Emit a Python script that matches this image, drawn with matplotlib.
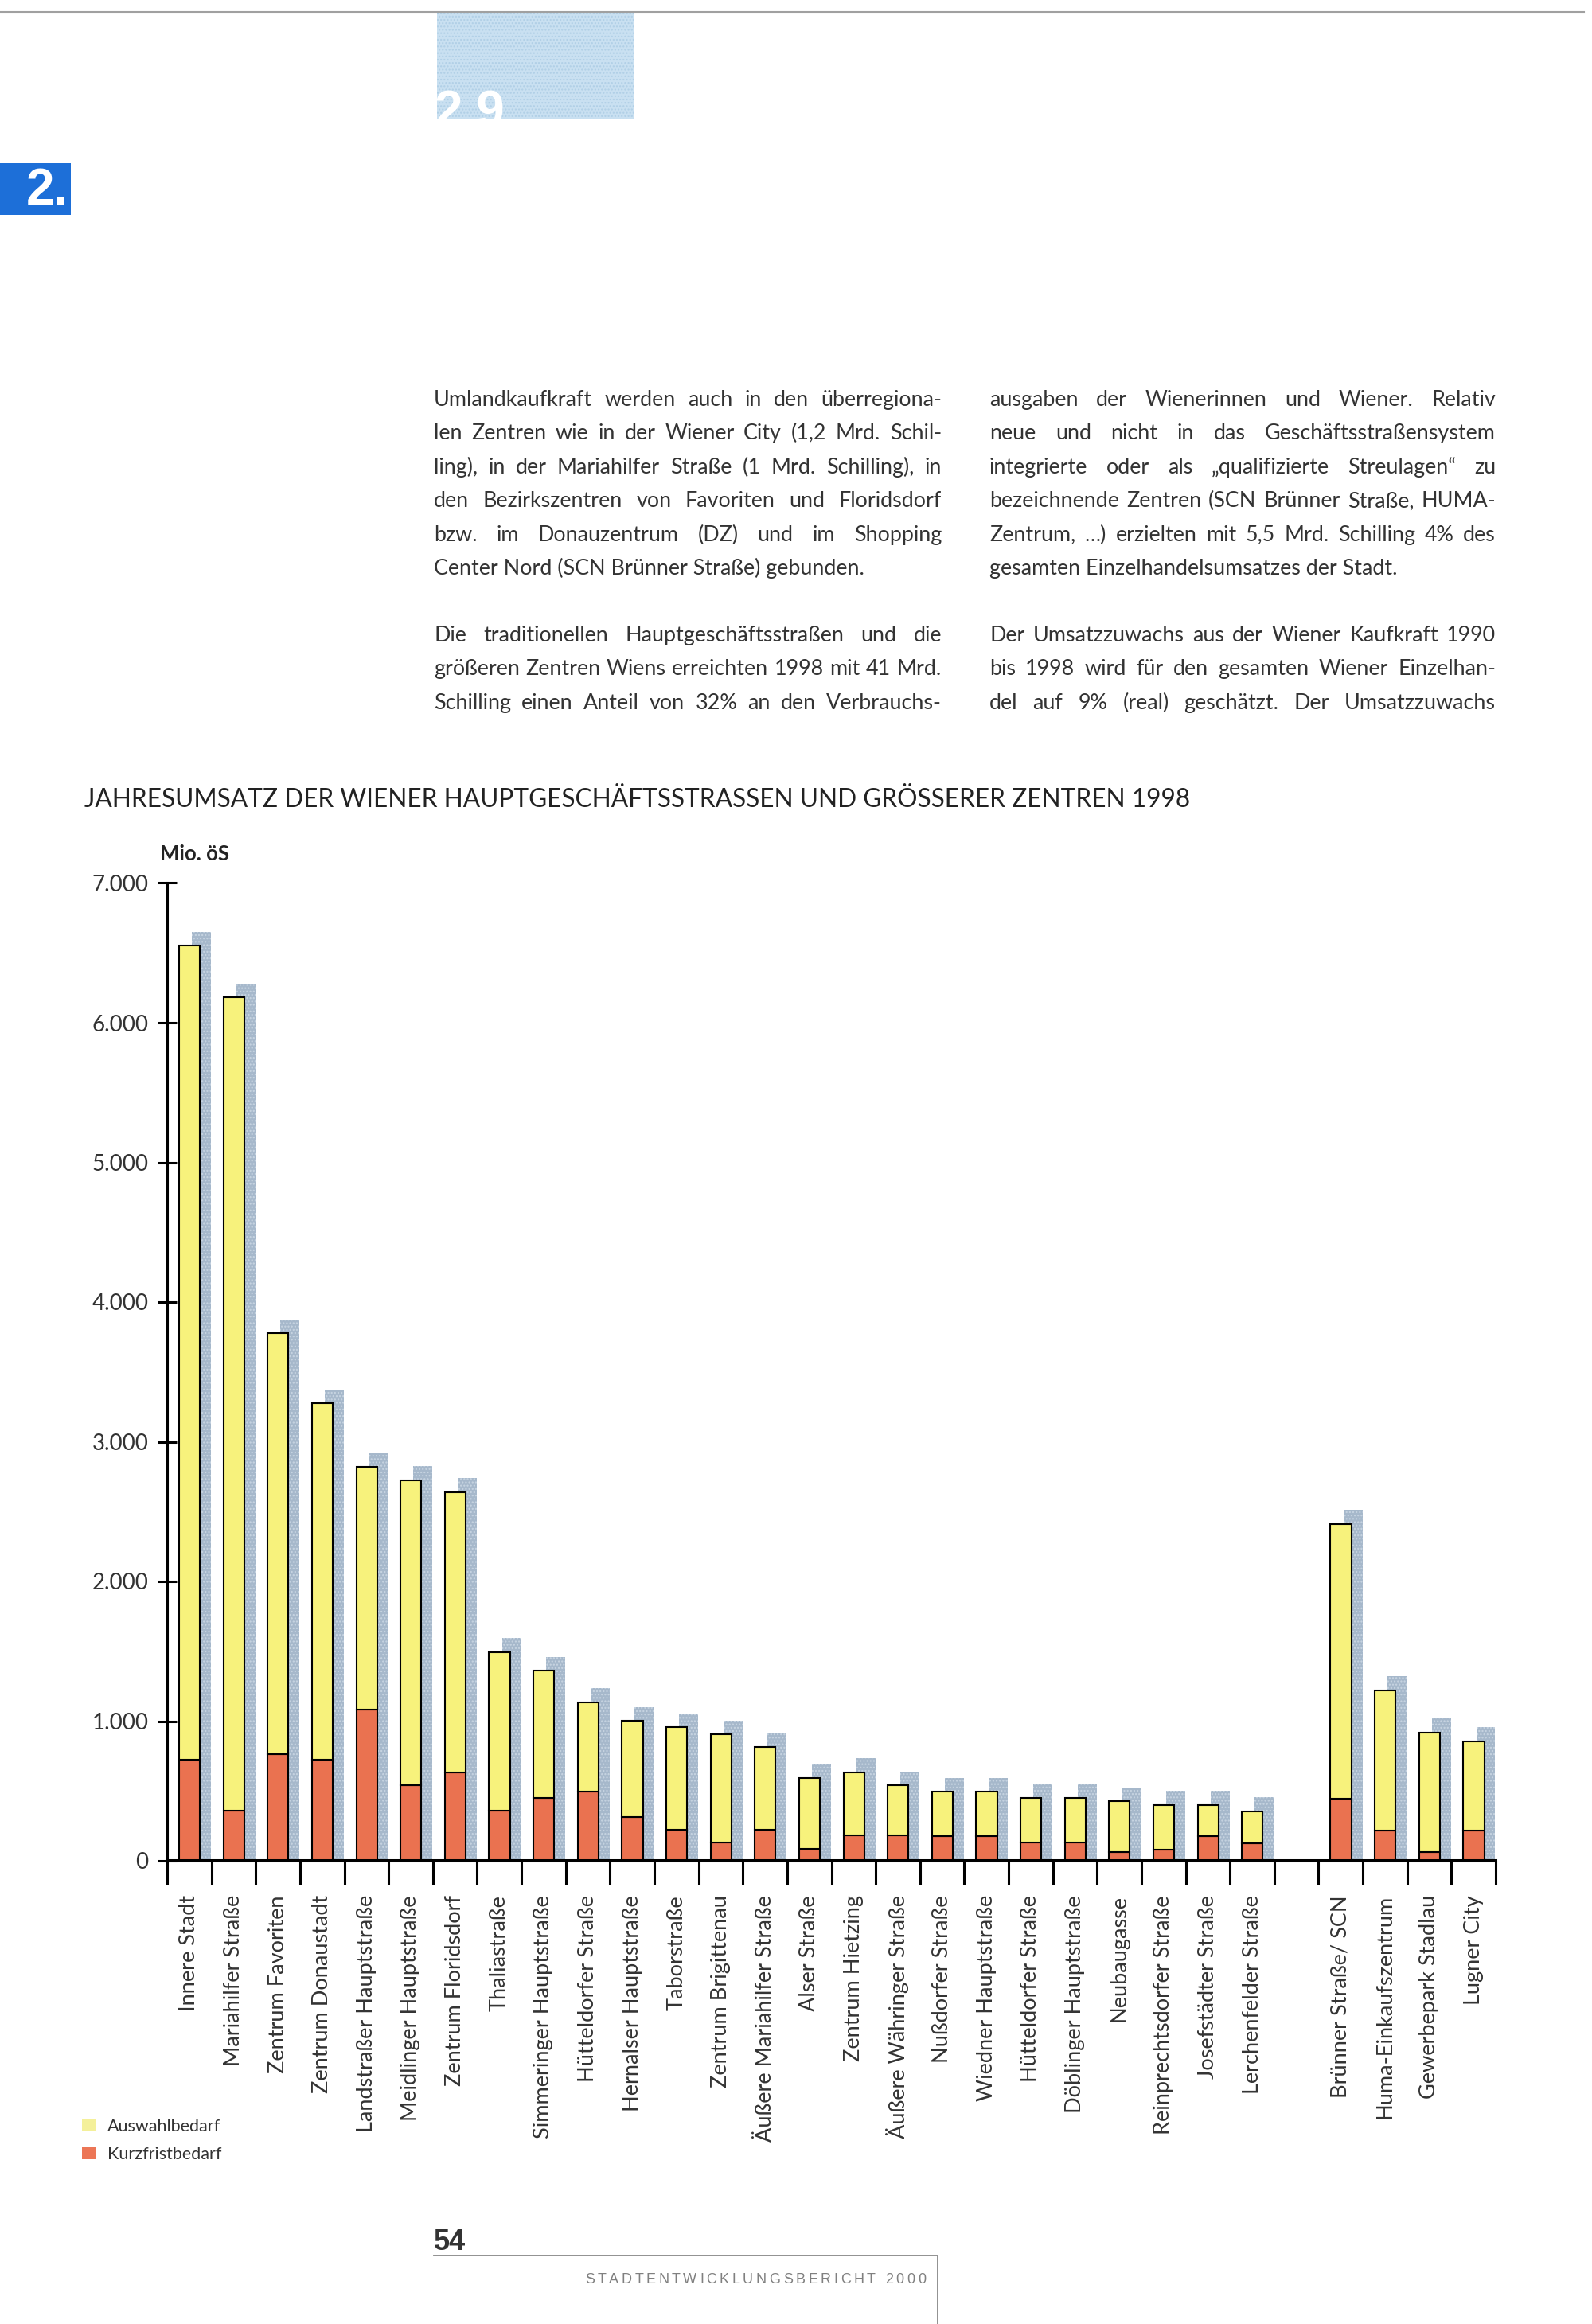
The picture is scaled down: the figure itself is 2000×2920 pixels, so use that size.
import numpy as np
import matplotlib
matplotlib.use("Agg")
import matplotlib.pyplot as plt
from matplotlib.patches import Rectangle

W, H = 2000, 2920

# Geschaeftsstrassen (links) und Zentren (rechts, nach der Luecke)
strassen = ["Innere Stadt", "Mariahilfer Straße", "Zentrum Favoriten", "Zentrum Donaustadt",
            "Landstraßer Hauptstraße", "Meidlinger Hauptstraße", "Zentrum Floridsdorf",
            "Thaliastraße", "Simmeringer Hauptstraße", "Hütteldorfer Straße",
            "Hernalser Hauptstraße", "Taborstraße", "Zentrum Brigittenau",
            "Äußere Mariahilfer Straße", "Alser Straße", "Zentrum Hietzing",
            "Äußere Währinger Straße", "Nußdorfer Straße", "Wiedner Hauptstraße",
            "Hütteldorfer Straße", "Döblinger Hauptstraße", "Neubaugasse",
            "Reinprechtsdorfer Straße", "Josefstädter Straße", "Lerchenfelder Straße"]
zentren = ["Brünner Straße/ SCN", "Huma-Einkaufszentrum", "Gewerbepark Stadlau", "Lugner City"]

# Mio. oeS
kurzfrist_str = [725, 360, 765, 725, 1085, 540, 630, 360, 450, 495, 315, 225, 130,
                 225, 85, 180, 180, 175, 175, 130, 130, 60, 80, 175, 125]
auswahl_str = [5825, 5820, 3010, 2550, 1735, 2185, 2010, 1135, 910, 640, 685, 730, 775,
               590, 505, 455, 360, 320, 320, 320, 320, 365, 320, 225, 230]
kurzfrist_zen = [445, 215, 60, 215]
auswahl_zen = [1965, 1005, 860, 640]

y_ticks = [0, 1000, 2000, 3000, 4000, 5000, 6000, 7000]
y_labels = ["0", "1.000", "2.000", "3.000", "4.000", "5.000", "6.000", "7.000"]

title = "JAHRESUMSATZ DER WIENER HAUPTGESCHÄFTSSTRASSEN UND GRÖSSERER ZENTREN 1998"

left_p1 = ["Umlandkaufkraft werden auch in den überregiona-",
           "len Zentren wie in der Wiener City (1,2 Mrd. Schil-",
           "ling), in der Mariahilfer Straße (1 Mrd. Schilling), in",
           "den Bezirkszentren von Favoriten und Floridsdorf",
           "bzw. im Donauzentrum (DZ) und im Shopping",
           "Center Nord (SCN Brünner Straße) gebunden."]
left_p2 = ["Die traditionellen Hauptgeschäftsstraßen und die",
           "größeren Zentren Wiens erreichten 1998 mit 41 Mrd.",
           "Schilling einen Anteil von 32% an den Verbrauchs-"]
right_p1 = ["ausgaben der Wienerinnen und Wiener. Relativ",
            "neue und nicht in das Geschäftsstraßensystem",
            "integrierte oder als „qualifizierte Streulagen“ zu",
            "bezeichnende Zentren (SCN Brünner Straße, HUMA-",
            "Zentrum, …) erzielten mit 5,5 Mrd. Schilling 4% des",
            "gesamten Einzelhandelsumsatzes der Stadt."]
right_p2 = ["Der Umsatzzuwachs aus der Wiener Kaufkraft 1990",
            "bis 1998 wird für den gesamten Wiener Einzelhan-",
            "del auf 9% (real) geschätzt. Der Umsatzzuwachs"]

YEL = "#f7f27c"
RED = "#ea7250"
SHADOW = "#a6b8cb"
TXT = "#333333"

plt.rcParams['font.family'] = ['Lato', 'DejaVu Sans']

fig = plt.figure(figsize=(W / 100, H / 100), dpi=100)
renderer = fig.canvas.get_renderer()


def fx(x):
    return x / W


def fy(y):
    return 1 - y / H


def width_of(s, size, **kw):
    t = fig.text(0, 0, s, fontsize=size, **kw)
    w = t.get_window_extent(renderer).width
    t.remove()
    return w


def fit_size(lines, width, base=20.0):
    m = max(width_of(l, base) for l in lines)
    return base * width / m


def block(lines, x0, x1, y0, step, size, last_free):
    for k, line in enumerate(lines):
        y = y0 + k * step
        if k == len(lines) - 1 and last_free:
            fig.text(fx(x0), fy(y), line, fontsize=size, color=TXT, va="baseline")
            continue
        words = line.split(" ")
        arts = [fig.text(0, fy(y), w, fontsize=size, color=TXT, va="baseline") for w in words]
        widths = [a.get_window_extent(renderer).width for a in arts]
        gap = (x1 - x0 - sum(widths)) / (len(words) - 1)
        x = x0
        for a, w in zip(arts, widths):
            a.set_x(fx(x))
            x += w + gap


# --- Kopfzeile ---------------------------------------------------------
fig.add_artist(plt.Line2D([0, fx(1990)], [fy(15), fy(15)], color="#a0a0a0", lw=1.5))
box = Rectangle((fx(549), fy(149)), fx(796) - fx(549), fy(15) - fy(149),
                transform=fig.transFigure, facecolor="#c9e0f1", edgecolor="#b0cfe6",
                hatch="....", lw=0)
fig.add_artist(box)
t29 = fig.text(fx(546), fy(112), "2.9.", fontsize=46, color="white", fontweight="bold",
               va="top", family=["Liberation Sans", "DejaVu Sans"])
t29.set_clip_path(box)
fig.add_artist(Rectangle((0, fy(270)), fx(89), fy(205) - fy(270), transform=fig.transFigure,
                         facecolor="#1d6fd8", lw=0))
fig.text(fx(86), fy(240), "2.", fontsize=46, color="white", fontweight="bold",
         ha="right", va="center", family=["Liberation Sans", "DejaVu Sans"])

# --- Fliesstext --------------------------------------------------------
lx0, lx1 = 545, 1183
rx0, rx1 = 1243, 1879
step = 42.4
body = min(fit_size(left_p1 + left_p2, lx1 - lx0), fit_size(right_p1 + right_p2, rx1 - rx0))
block(left_p1, lx0, lx1, 510, step, body, True)
block(left_p2, lx0, lx1, 806, step, body, False)
block(right_p1, rx0, rx1, 510, step, body, True)
block(right_p2, rx0, rx1, 806, step, body, False)

# --- Titel -------------------------------------------------------------
tsize = fit_size([title], 1386, base=26)
fig.text(fx(106), fy(1014), title, fontsize=tsize, color="#222222", va="baseline")
fig.text(fx(201), fy(1081), "Mio. öS", fontsize=18.5, fontweight="bold", color="#222222",
         va="baseline")

# --- Diagramm ----------------------------------------------------------
n1 = len(strassen)
pos = np.concatenate([np.arange(n1), np.arange(len(zentren)) + n1 + 1]).astype(float)
names = strassen + zentren
kurz = np.array(kurzfrist_str + kurzfrist_zen)
ausw = np.array(auswahl_str + auswahl_zen)
total = kurz + ausw

y0px, y7px = 2338, 1109.5
ax = fig.add_axes([fx(210), fy(y0px), fx(1879) - fx(210), (y0px - y7px) / H])
ax.set_xlim(0, 30)
ax.set_ylim(0, 7000)
ax.patch.set_alpha(0)

ax.bar(pos + 0.775, total + 100, width=0.43, color=SHADOW, edgecolor="#c8d5e2",
       hatch="....", lw=0, zorder=1)
ax.bar(pos + 0.505, kurz, width=0.47, color=RED, edgecolor="black", lw=1.5, zorder=2)
ax.bar(pos + 0.505, ausw, bottom=kurz, width=0.47, color=YEL, edgecolor="black", lw=1.5,
       zorder=2)

for s in ["top", "right"]:
    ax.spines[s].set_visible(False)
ax.spines["left"].set_linewidth(2.2)
ax.spines["bottom"].set_linewidth(2.9)
ax.spines["bottom"].set_zorder(3)

ax.set_yticks(y_ticks, y_labels)
ax.tick_params(axis="y", direction="inout", length=17, width=2.2, pad=8.5,
               labelsize=20, labelcolor=TXT)
ax.set_xticks(np.arange(0, 31), [""] * 31)
ax.tick_params(axis="x", which="major", direction="out", length=21.5, width=2.2)
ax.set_xticks(pos + 0.5, names, minor=True)
ax.tick_params(axis="x", which="minor", length=0, pad=31, labelsize=19.5,
               labelcolor=TXT, labelrotation=90)

# --- Legende -----------------------------------------------------------
fig.add_artist(Rectangle((fx(103), fy(2678)), fx(17), 16 / H, transform=fig.transFigure,
                         facecolor="#f4f09a", lw=0))
fig.add_artist(Rectangle((fx(103), fy(2713)), fx(17), 16 / H, transform=fig.transFigure,
                         facecolor="#ec7656", lw=0))
fig.text(fx(135), fy(2678), "Auswahlbedarf", fontsize=15.5, color=TXT, va="baseline")
fig.text(fx(135), fy(2713), "Kurzfristbedarf", fontsize=15.5, color=TXT, va="baseline")

# --- Fusszeile ---------------------------------------------------------
fig.text(fx(545), fy(2827), "54", fontsize=26, fontweight="bold", color="#333333",
         va="baseline", family=["Liberation Sans", "DejaVu Sans"])
fig.add_artist(plt.Line2D([fx(545), fx(1178), fx(1178)], [fy(2834), fy(2834), 0],
                          color="#888888", lw=1.3))
foot = "STADTENTWICKLUNGSBERICHT 2000"
fsize = 13
fam = ["Liberation Sans", "DejaVu Sans"]
cw = [width_of(c, fsize, family=fam) for c in foot]
track = (428 - sum(cw)) / (len(foot) - 1)
x = 1163 - 428
for c, w in zip(foot, cw):
    fig.text(fx(x), fy(2869), c, fontsize=fsize, color="#808080", va="baseline", family=fam)
    x += w + track

fig.savefig("out.png", dpi=100)
